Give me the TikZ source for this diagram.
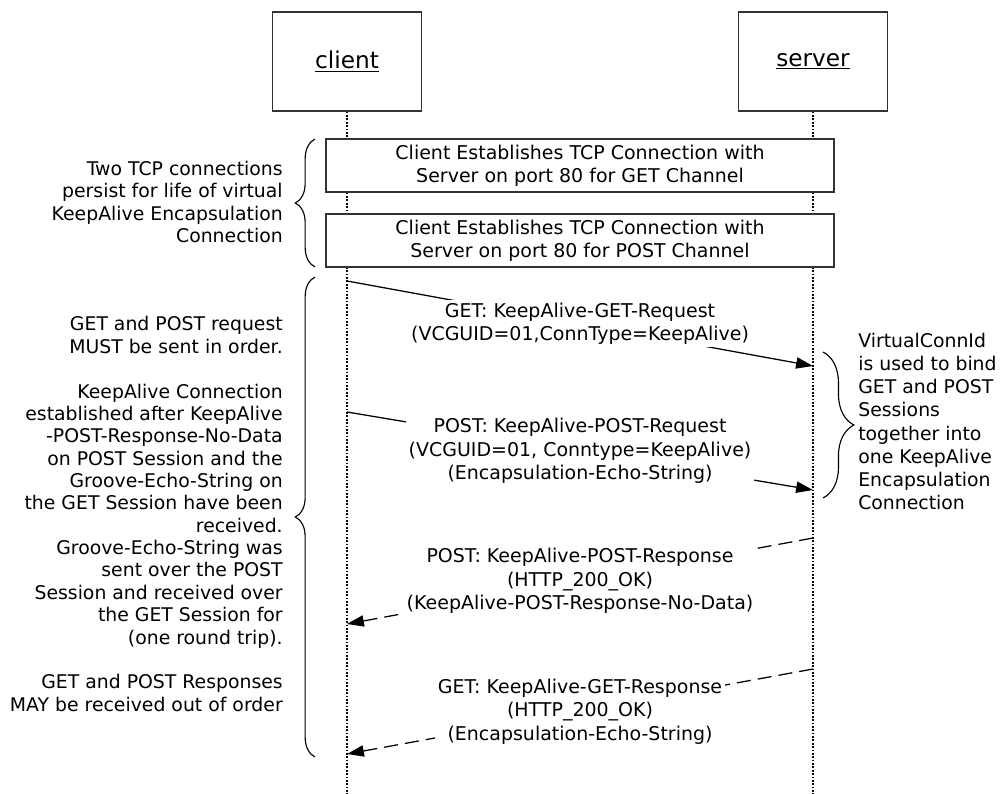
\documentclass[tikz,border=0pt]{standalone}
\usepackage{fontspec}
\setmainfont{DejaVu Sans}
\usetikzlibrary{arrows.meta,decorations.pathreplacing}

\tikzset{
	actor/.style={draw=black!80,line width=1pt,fill=white,minimum width=3.725cm,minimum height=2.475cm,font=\fontsize{16.5}{20}\selectfont},
	tcpbox/.style={draw=black!80,line width=1pt,fill=white,minimum width=12.7cm,minimum height=1.325cm,align=center,font=\fontsize{13.5}{16.4}\selectfont},
	lifeline/.style={line width=0.8pt,dash pattern=on 1.2pt off 1.2pt},
	msg/.style={line width=0.9pt,-{Triangle[length=12pt,width=8pt]}},
	reply/.style={msg,dash pattern=on 10pt off 5pt},
	msglbl/.style={fill=white,inner sep=2pt,align=center,font=\fontsize{13.5}{16.6}\selectfont},
	note/.style={inner sep=0pt,font=\fontsize{13.4}{15.9}\selectfont},
	brace/.style={line width=0.8pt,decorate,decoration={brace,amplitude=#1}}
}

\begin{document}
\begin{tikzpicture}[x=0.025cm,y=-0.025cm]
	\useasboundingbox (0,0) rectangle (1004,794);
	
	\coordinate (bottom) at (0,794);
	\node[actor] (client) at (347,61.5) {\underline{client}};
	\node[actor] (server) at (813,61.5) {\underline{server}};
	
	%lifelines
	\foreach \n in {client,server}
	\draw[lifeline] (\n.south) -- (\n.south |- bottom);
	
	%TCP setup
	\node[tcpbox] (tcpget) at (580,165.5) {Client Establishes TCP Connection with\\Server on port 80 for GET Channel};
	\node[tcpbox] (tcppost) at (580,240.5) {Client Establishes TCP Connection with\\Server on port 80 for POST Channel};
	
	%requests
	\coordinate (c1) at (347,281);
	\coordinate (s1) at (813,366);
	\coordinate (c2) at (347,412);
	\coordinate (s2) at (813,490);
	\draw[msg] (c1) -- node[msglbl] {GET: KeepAlive-GET-Request\\(VCGUID=01,ConnType=KeepAlive)} (s1);
	\draw[msg] (c2) -- node[msglbl] {POST: KeepAlive-POST-Request\\(VCGUID=01, Conntype=KeepAlive)\\(Encapsulation-Echo-String)} (s2);
	
	%responses
	\coordinate (s3) at (813,538);
	\coordinate (c3) at (347,624);
	\coordinate (s4) at (813,669);
	\coordinate (c4) at (347,754);
	\draw[reply] (s3) -- node[msglbl] {POST: KeepAlive-POST-Response\\(HTTP\_200\_OK)\\(KeepAlive-POST-Response-No-Data)} (c3);
	\draw[reply] (s4) -- node[msglbl] {GET: KeepAlive-GET-Response\\(HTTP\_200\_OK)\\(Encapsulation-Echo-String)} (c4);
	
	%braces and notes
	\draw[brace=14pt] (315,267) -- (315,139);
	\draw[brace=14pt] (315,757) -- (315,277);
	\draw[brace=22pt] (823,352) -- (823,498);
	
	\node[note,anchor=east,align=right] (setup) at (283,202) {Two TCP connections\\persist for life of virtual\\KeepAlive Encapsulation\\Connection};
	\node[note,anchor=east,align=right] (order) at (283,514) {GET and POST request\\MUST be sent in order.\\[15.9pt]KeepAlive Connection\\established after KeepAlive\\-POST-Response-No-Data\\on POST Session and the\\Groove-Echo-String on\\the GET Session have been\\received.\\Groove-Echo-String was\\sent over the POST\\Session and received over\\the GET Session for\\(one round trip).\\[15.9pt]GET and POST Responses\\MAY be received out of order};
	\node[note,anchor=west,align=left,font=\fontsize{13.4}{16.5}\selectfont] (bind) at (858,421.5) {VirtualConnId\\is used to bind\\GET and POST\\Sessions\\together into\\one KeepAlive\\Encapsulation\\Connection};
	
\end{tikzpicture}
\end{document}
